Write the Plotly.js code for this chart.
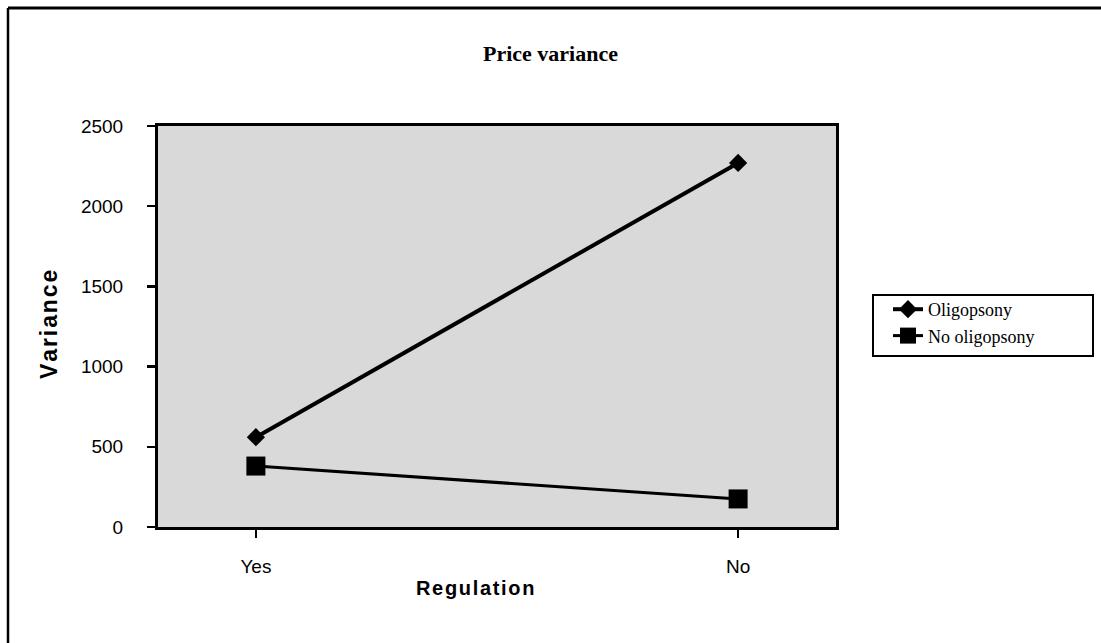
<!DOCTYPE html>
<html>
<head>
<meta charset="utf-8">
<script src="https://cdn.plot.ly/plotly-3.0.1.min.js"></script>
<style>html,body{margin:0;padding:0;background:#fff;}#chart{width:1101px;height:643px;}</style>
</head>
<body>
<div id="chart"></div>
<script>
const categories = ["Yes", "No"];
const oligopsony = [560, 2270];
const noOligopsony = [380, 175];
const yTicks = [0, 500, 1000, 1500, 2000, 2500];

const W = 1101, H = 643;
const M = {l: 158, r: 265, t: 126, b: 116};
const pw = W - M.l - M.r, ph = H - M.t - M.b;
const px = v => (v - M.l) / pw;
const py = v => (H - M.b - v) / ph;
const spaced = s => s.split("").join("\u200A");

const traces = [
  {x: categories, y: oligopsony, name: "Oligopsony", type: "scatter", mode: "lines+markers",
   line: {color: "#000", width: 4}, marker: {symbol: "diamond", size: 14, color: "#000"}},
  {x: categories, y: noOligopsony, name: "No oligopsony", type: "scatter", mode: "lines+markers",
   line: {color: "#000", width: 3}, marker: {symbol: "square", size: 19, color: "#000"}}
];

const tickFont = {family: "Liberation Sans, Arial, sans-serif", size: 19, color: "#000"};

const layout = {
  width: W, height: H,
  margin: M,
  paper_bgcolor: "#fff",
  plot_bgcolor: "#d9d9d9",
  showlegend: true,
  title: {text: "<b>Price variance</b>", x: 0.5, xref: "container", y: 1 - 53/H, yref: "container", yanchor: "middle",
          font: {family: "Liberation Serif, Times New Roman, serif", size: 22, color: "#000"}},
  xaxis: {
    type: "category", range: [-0.203, 1.203],
    showline: true, linecolor: "#000", linewidth: 3, mirror: true,
    ticks: "outside", ticklen: 8, tickwidth: 2.5, tickcolor: "#000",
    ticklabelstandoff: 12,
    showgrid: false, zeroline: false,
    tickfont: tickFont
  },
  yaxis: {
    range: [0, 2500], tickvals: yTicks, ticktext: yTicks.map(String),
    showline: true, linecolor: "#000", linewidth: 3, mirror: true,
    ticks: "outside", ticklen: 8, tickwidth: 2.5, tickcolor: "#000",
    ticklabelstandoff: 20,
    showgrid: false, zeroline: false,
    tickfont: tickFont
  },
  legend: {
    x: px(888), y: py(291), xanchor: "left", yanchor: "top",
    bgcolor: "rgba(0,0,0,0)", borderwidth: 0,
    font: {family: "Liberation Serif, Times New Roman, serif", size: 18, color: "#000"},
    tracegroupgap: 0, itemwidth: 30
  },
  annotations: [
    {text: "<b>" + spaced("Regulation") + "</b>", xref: "paper", yref: "paper", x: px(475), y: py(588),
     xanchor: "center", yanchor: "middle", showarrow: false,
     font: {family: "Liberation Sans, Arial, sans-serif", size: 20, color: "#000"}},
    {text: "<b>" + spaced("Variance") + "</b>", xref: "paper", yref: "paper", x: px(49), y: py(325),
     xanchor: "center", yanchor: "middle", showarrow: false, textangle: -90,
     font: {family: "Liberation Sans, Arial, sans-serif", size: 23, color: "#000"}}
  ],
  shapes: [
    {type: "line", xref: "paper", yref: "paper", x0: px(8), y0: py(8), x1: px(1101), y1: py(8), line: {color: "#000", width: 3}},
    {type: "line", xref: "paper", yref: "paper", x0: px(8), y0: py(8), x1: px(8), y1: py(643), line: {color: "#000", width: 2.5}},
    {type: "rect", xref: "paper", yref: "paper", x0: px(873), y0: py(295), x1: px(1093), y1: py(356),
     fillcolor: "#fff", line: {color: "#000", width: 2}, layer: "above"}
  ]
};

Plotly.newPlot("chart", traces, layout, {displayModeBar: false, staticPlot: true});
</script>
</body>
</html>
